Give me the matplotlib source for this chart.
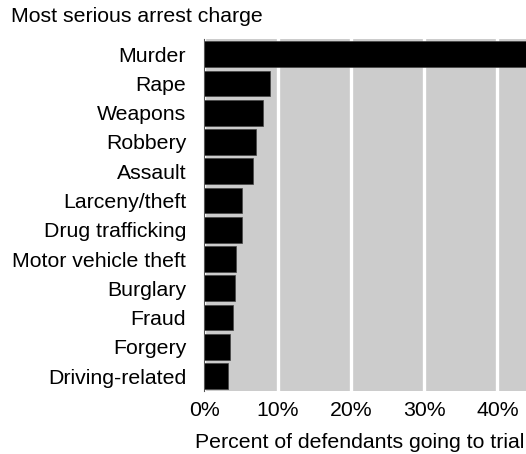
import numpy as np
import matplotlib
matplotlib.use('Agg')
import matplotlib.pyplot as plt

plt.rcParams['font.family'] = ['Liberation Sans', 'DejaVu Sans']

charges = ['Murder', 'Rape', 'Weapons', 'Robbery', 'Assault', 'Larceny/theft',
           'Drug trafficking', 'Motor vehicle theft', 'Burglary', 'Fraud',
           'Forgery', 'Driving-related']
pct_trial = [50.0, 9.0, 8.05, 7.05, 6.6, 5.2, 5.15, 4.28, 4.2, 3.9, 3.5, 3.23]
xticks = [0, 10, 20, 30, 40]
xticklabels = ['0%', '10%', '20%', '30%', '40%']

fs = 15.3

fig = plt.figure(figsize=(5.26, 4.54), dpi=100)
ax = fig.add_axes([0.3884, 0.1394, 0.6116, 0.7736])
ax.set_facecolor('#cccccc')

y = np.arange(len(charges))
ax.barh(y, pct_trial, height=0.88, color='black', edgecolor='#444444',
        linewidth=0.5, zorder=3)

ax.set_xlim(0, 43.9)
ax.set_ylim(len(charges) - 0.5, -0.5)
ax.set_yticks(y)
ax.set_yticklabels(charges, fontsize=fs)
ax.set_xticks(xticks)
ax.set_xticklabels(xticklabels, fontsize=fs)
ax.tick_params(axis='y', length=0, pad=13)
ax.tick_params(axis='x', length=0, pad=7.5)

ax.grid(axis='x', color='white', linewidth=2.4, zorder=1)
ax.grid(axis='y', visible=False)
for s in ['top', 'right', 'bottom']:
    ax.spines[s].set_visible(False)
ax.spines['left'].set_color('#555555')
ax.spines['left'].set_linewidth(0.8)
ax.spines['left'].set_zorder(4)

# x label placed by hand, centred a little left of the cropped panel
fig.text(359.5 / 526, 1 - 447.5 / 454, 'Percent of defendants going to trial',
         fontsize=fs, ha='center', va='baseline')
fig.text(11 / 526, 1 - 16.5 / 454, 'Most serious arrest charge', fontsize=fs,
         ha='left', va='center')

fig.savefig('out.png', dpi=100)
